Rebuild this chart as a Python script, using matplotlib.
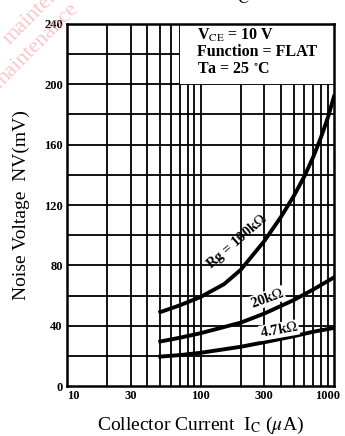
import numpy as np
import matplotlib
matplotlib.use('Agg')
import matplotlib.pyplot as plt
import matplotlib.transforms as mtransforms
from matplotlib.patches import Rectangle

plt.rcParams['font.family'] = ['Liberation Serif', 'DejaVu Serif']
plt.rcParams['mathtext.fontset'] = 'stix'

# collector current (uA) and noise voltage (mV) for each Rg
ic_100k = [50, 70, 100, 150, 200, 300, 400, 500, 600, 700, 800, 900, 1000]
nv_100k = [49, 53.5, 59, 67.5, 77, 96, 112, 126, 139, 152, 165, 178, 192]
ic_20k = [50, 70, 100, 200, 300, 500, 700, 1000]
nv_20k = [29.5, 32, 35, 42, 48, 57, 64, 72]
ic_4k7 = [50, 70, 100, 200, 300, 500, 700, 1000]
nv_4k7 = [19.5, 20.5, 22, 26, 29, 33, 36, 38.5]

xticks = [10, 30, 100, 300, 1000]
yticks = [0, 40, 80, 120, 160, 200, 240]

fig = plt.figure(figsize=(3.45, 4.36), dpi=100)
ax = fig.add_axes([67/345, 1 - 386/436, 267/345, 362/436])

ax.set_xscale('log')
ax.set_xlim(10, 1000)
ax.set_ylim(0, 240)

# grid
for d in [10, 100]:
    for k in range(1, 10):
        ax.axvline(d * k, color='black', lw=1.3, zorder=1)
for v in range(20, 240, 20):
    ax.axhline(v, color='black', lw=1.3, zorder=1)

ax.plot(ic_100k, nv_100k, color='black', lw=2.8, zorder=3)
ax.plot(ic_20k, nv_20k, color='black', lw=2.8, zorder=3)
ax.plot(ic_4k7, nv_4k7, color='black', lw=2.8, zorder=3)

# condition box
ax.add_patch(Rectangle((70, 200), 930, 40, facecolor='white', edgecolor='none', zorder=2))
cond = ['V$_{\\mathrm{CE}}$ = 10 V', 'Function = FLAT', 'Ta = 25 $^{\\circ}$C']
for i, s in enumerate(cond):
    ax.text(94, 232.5 - i * 11.3, s, fontsize=11.5, fontweight='bold', va='center', ha='left', zorder=4)

bb = dict(facecolor='white', edgecolor='none', pad=0.5)
ax.text(188, 96, 'Rg = 100k$\\Omega$', fontsize=10.5, fontweight='bold', rotation=41,
        ha='center', va='center', zorder=4)
ax.text(315, 58, '20k$\\Omega$', fontsize=10.5, fontweight='bold', rotation=20,
        ha='center', va='center', bbox=bb, zorder=4)
ax.text(387, 37, '4.7k$\\Omega$', fontsize=10.5, fontweight='bold', rotation=10,
        ha='center', va='center', bbox=bb, zorder=4)

ax.set_xticks(xticks)
ax.set_xticklabels([str(t) for t in xticks], fontsize=9, fontweight='bold')
ax.xaxis.set_minor_locator(matplotlib.ticker.NullLocator())
ax.set_yticks(yticks)
ax.set_yticklabels([str(t) for t in yticks], fontsize=9, fontweight='bold')
ax.tick_params(length=0, pad=3)
labs = ax.get_xticklabels()
labs[0].set_ha('left')
labs[-1].set_transform(labs[-1].get_transform() +
                       mtransforms.ScaledTranslation(-0.06, 0, fig.dpi_scale_trans))
for sp in ax.spines.values():
    sp.set_linewidth(1.8)

ax.set_ylabel('Noise Voltage  NV(mV)', fontsize=14, labelpad=10)
ax.set_xlabel('Collector Current  I$_{\\mathrm{C}}$ ($\\mu$A)', fontsize=14, labelpad=9)

fig.text(0.59, 1.012, 'NV — I$_{\\mathrm{C}}$', fontsize=17, fontweight='bold', ha='center', va='center')

# scan watermark
fig.text(0.0, 0.90, 'maintenance', fontsize=16, color='#f4a0a8', alpha=0.6, rotation=45)
fig.text(-0.03, 0.80, 'maintenance', fontsize=16, color='#f4a0a8', alpha=0.6, rotation=45)

plt.savefig('out.png', dpi=100)
